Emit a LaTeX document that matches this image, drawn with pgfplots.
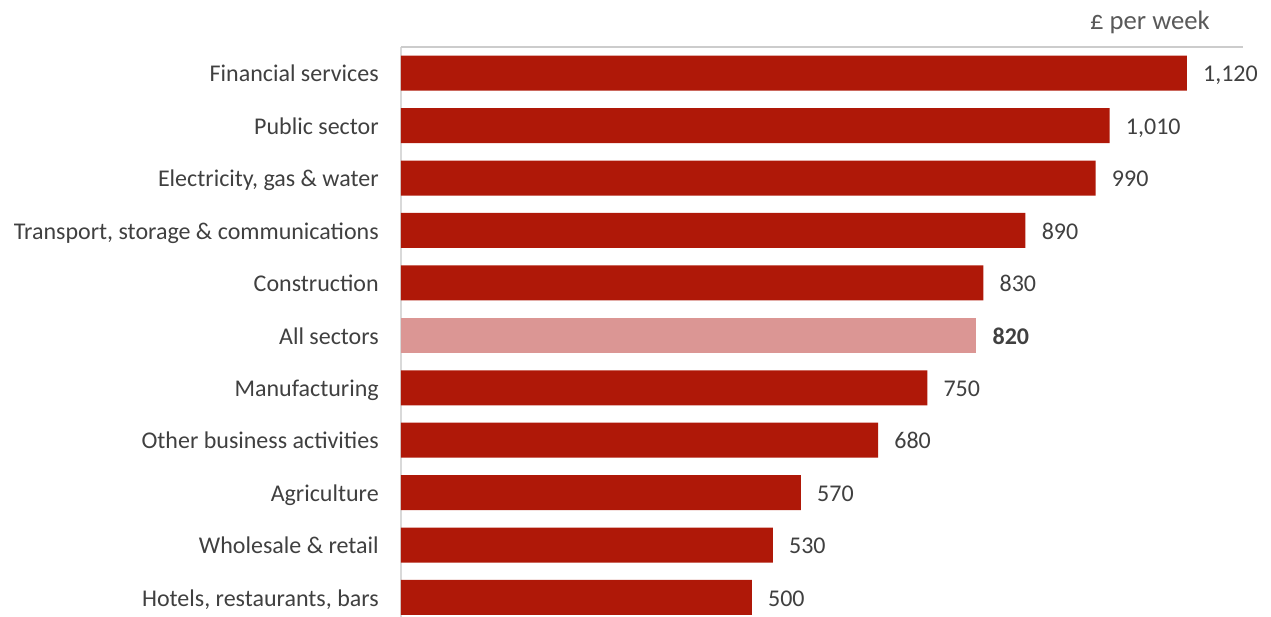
\documentclass[border=0pt]{standalone}
\usepackage{pgfplots}
\pgfplotsset{compat=1.18}
\usepackage{fontspec}
\setmainfont{Carlito}
\definecolor{barred}{RGB}{175,24,8}
\definecolor{barpink}{RGB}{219,150,148}
\definecolor{txt}{RGB}{64,64,64}
\definecolor{unit}{RGB}{89,89,89}
\definecolor{axgray}{RGB}{204,204,204}
\definecolor{axgrayl}{RGB}{217,217,217}
\begin{document}
\begin{tikzpicture}
\useasboundingbox (-300.75pt,0pt) rectangle (652.5pt,462.75pt);
\begin{axis}[
  at={(0pt,0pt)}, anchor=south west,
  scale only axis, width=631.5pt, height=427.5pt,
  xmin=0, xmax=1200, ymin=-0.372, ymax=10.5,
  xbar, bar width=26.25pt,
  axis line style={draw=none},
  xtick=\empty,
  ytick={0,...,10},
  yticklabels={{Hotels, restaurants, bars},{Wholesale \& retail},{Agriculture},{Other business activities},{Manufacturing},{All sectors},{Construction},{Transport, storage \& communications},{Electricity, gas \& water},{Public sector},{Financial services}},
  major tick length=0pt,
  yticklabel style={font=\fontsize{18}{21.6}\selectfont, text=txt, inner sep=0pt, xshift=-16.5pt, anchor=east, text height=15pt, text depth=2pt},
  /pgf/number format/.cd, 1000 sep={,}, assume math mode=true,
  /pgfplots/.cd,
  nodes near coords,
  nodes near coords style={anchor=west, inner sep=0pt, xshift=12pt, font=\fontsize{18}{21.6}\selectfont, text=txt, text height=15pt, text depth=2pt},
  clip=false,
]
\draw[axgrayl, line width=1.5pt] (rel axis cs:0,0) -- (rel axis cs:0,1);
\draw[axgray, line width=1.5pt] (rel axis cs:0,1) -- (rel axis cs:1,1);
\addplot[fill=barred, draw=none, bar shift=0pt] coordinates {
  (500,0) (530,1) (570,2) (680,3) (750,4) (830,6) (890,7) (990,8) (1010,9) (1120,10)
};
\addplot[fill=barpink, draw=none, bar shift=0pt,
  nodes near coords style={font=\bfseries\fontsize{18}{21.6}\selectfont}] coordinates {
  (820,5)
};
\end{axis}
\node[anchor=base east, text=unit, font=\fontsize{20}{24}\selectfont, inner sep=0pt] at (606.75pt,440.25pt) {£ per week};
\end{tikzpicture}
\end{document}
